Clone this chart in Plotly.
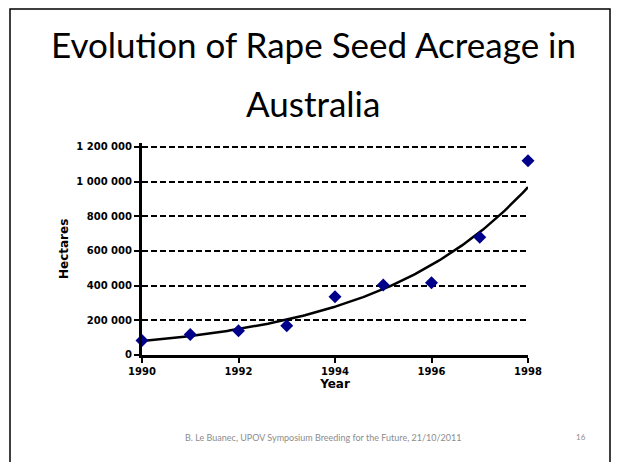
import numpy as np
import plotly.graph_objects as go

years = [1990, 1991, 1992, 1993, 1994, 1995, 1996, 1997, 1998]
hectares = [83000, 119000, 140000, 169000, 336000, 404000, 417000, 679000, 1121000]
y_ticks = [0, 200000, 400000, 600000, 800000, 1000000, 1200000]
y_tick_labels = ["0", "200 000", "400 000", "600 000", "800 000", "1 000 000", "1 200 000"]
x_ticks = [1990, 1992, 1994, 1996, 1998]

title_lines = ["Evolution of Rape Seed Acreage in", "Australia"]
footer = "B. Le Buanec, UPOV Symposium Breeding for the Future, 21/10/2011"
page_no = "16"

# exponential trend line fitted to the data
x = np.array(years, dtype=float)
coef = np.polyfit(x - x[0], np.log(hectares), 1)
xt = np.linspace(x[0], x[-1], 200)
yt = np.exp(coef[1] + coef[0] * (xt - x[0]))

# page body has an 8px margin; figure is sized so it fits the window
OFF = 8
W, H = 612, 454
def px(v): return (v - OFF) / W
def py(v): return 1 - (v - OFF) / H

# headroom above the top tick so its gridline is drawn (axis line ends at top of domain)
Y_TOP = 1225000
y0_px, y12_px = 355, 147
top_px = y0_px - (y0_px - y12_px) * Y_TOP / y_ticks[-1]

fig = go.Figure()
fig.add_trace(go.Scatter(x=xt, y=yt, mode="lines",
                         line=dict(color="black", width=2.5),
                         hoverinfo="skip", cliponaxis=False))
fig.add_trace(go.Scatter(x=years, y=hectares, mode="markers",
                         marker=dict(symbol="diamond", color="#00008B", size=10),
                         cliponaxis=False))

AX_FONT = "DejaVu Sans"
tickfont = dict(family=AX_FONT, size=10, color="black")
fig.update_layout(
    width=W, height=H,
    margin=dict(l=0, r=0, t=0, b=0),
    paper_bgcolor="white", plot_bgcolor="white",
    showlegend=False,
    xaxis=dict(domain=[px(142), px(528)], range=[1990, 1998], automargin=False,
               tickvals=x_ticks, ticktext=[f"<b>{v}</b>" for v in x_ticks],
               tickfont=tickfont, ticks="outside", ticklen=5, tickwidth=2,
               tickcolor="black",
               showline=True, linecolor="black", linewidth=3,
               showgrid=False, zeroline=False,
               title=dict(text="<b>Year</b>", font=dict(family=AX_FONT, size=12, color="black"),
                          standoff=0)),
    yaxis=dict(domain=[py(y0_px), py(top_px)], range=[0, Y_TOP], automargin=False,
               tickvals=y_ticks, ticktext=[f"<b>{t}</b>" for t in y_tick_labels],
               tickfont=tickfont, ticks="outside", ticklen=5, tickwidth=2,
               tickcolor="black",
               showline=True, linecolor="black", linewidth=3,
               showgrid=True, gridcolor="black", gridwidth=1.8, griddash="6px,3px",
               zeroline=False,
               title=dict(text="<b>Hectares</b>", font=dict(family=AX_FONT, size=12, color="black"),
                          standoff=6)),
)

# slide border
fig.add_shape(type="rect", xref="paper", yref="paper",
              x0=px(10), x1=px(610), y0=py(475), y1=py(9),
              line=dict(color="black", width=1.5), fillcolor="rgba(0,0,0,0)", layer="below")

title_font = dict(family="Lato, Open Sans", size=35, color="black")
fig.add_annotation(text=title_lines[0], x=px(313), y=py(44), xref="paper", yref="paper",
                   showarrow=False, font=title_font, xanchor="center", yanchor="middle")
fig.add_annotation(text=title_lines[1], x=px(313), y=py(103), xref="paper", yref="paper",
                   showarrow=False, font=title_font, xanchor="center", yanchor="middle")
fig.add_annotation(text=footer, x=px(323), y=py(437), xref="paper", yref="paper",
                   showarrow=False, font=dict(family="Lato, Open Sans", size=9, color="#8c8c8c"),
                   xanchor="center", yanchor="middle")
fig.add_annotation(text=page_no, x=px(581), y=py(437), xref="paper", yref="paper",
                   showarrow=False, font=dict(family="Lato, Open Sans", size=8, color="#8c8c8c"),
                   xanchor="center", yanchor="middle")

fig.write_html("out.html")
